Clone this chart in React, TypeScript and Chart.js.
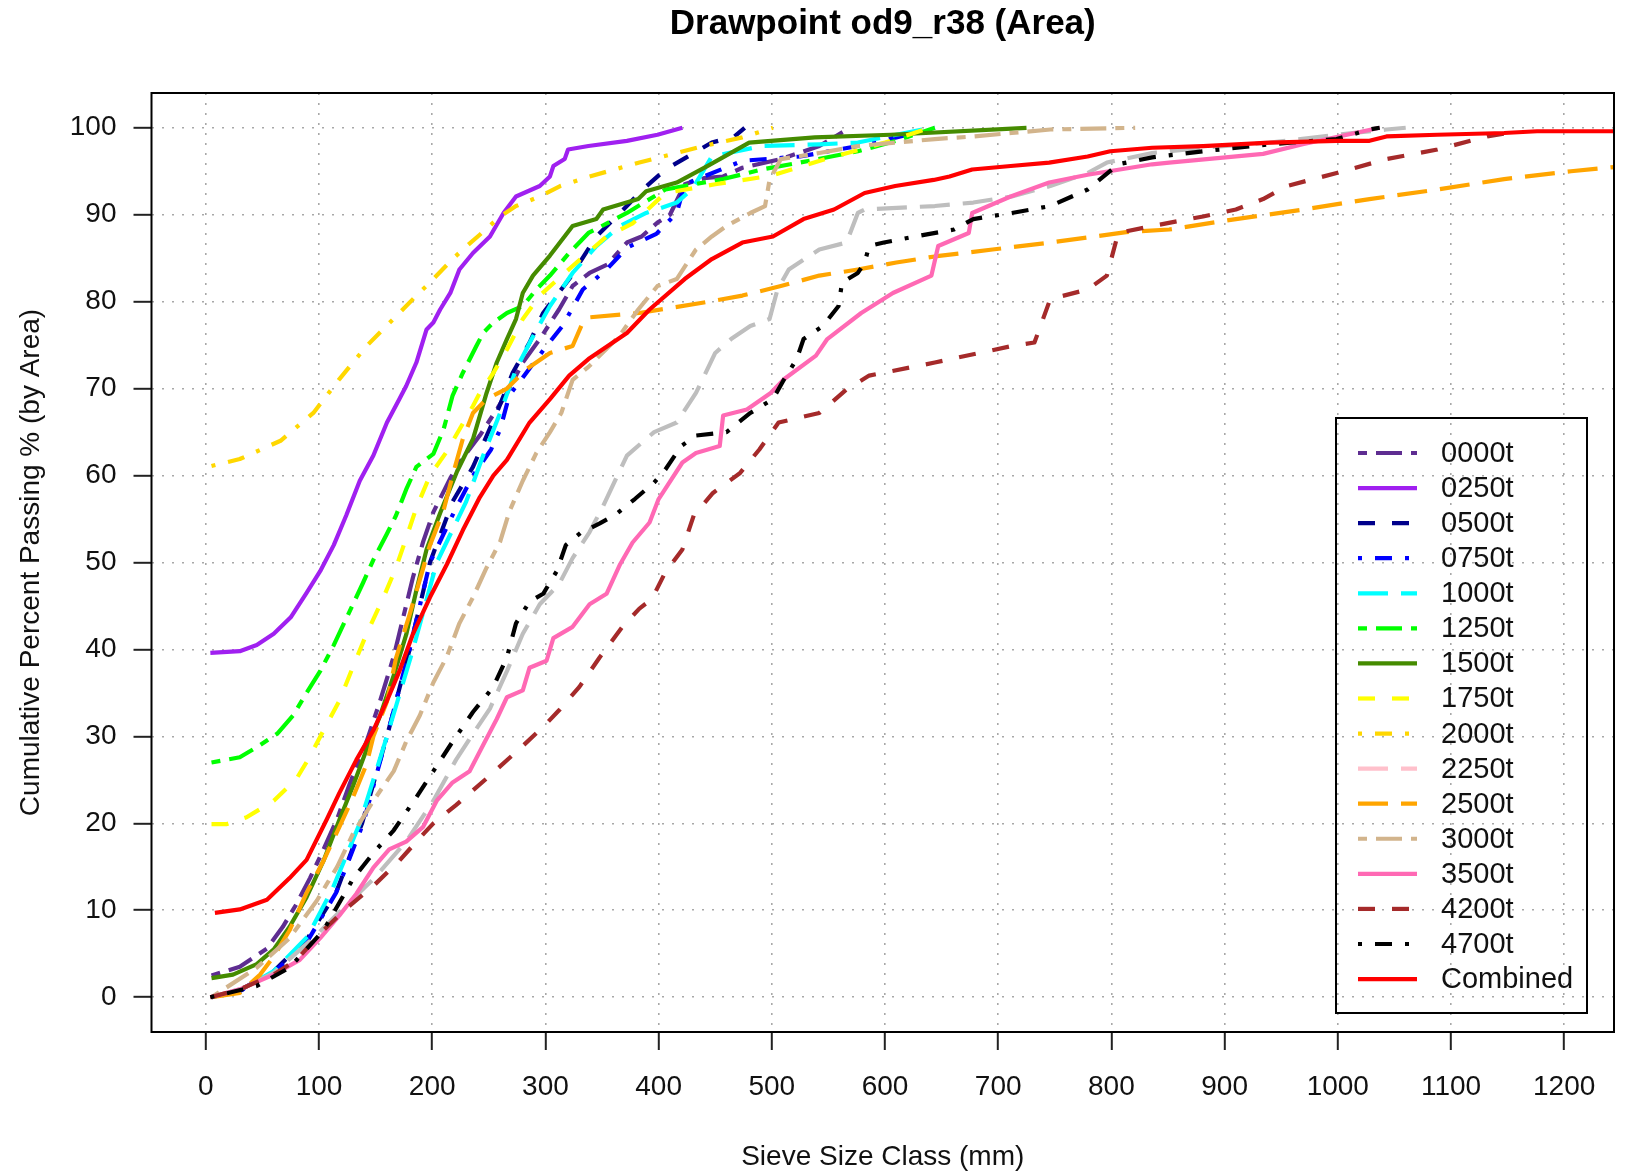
import { useEffect, useRef } from "react";
import { Chart, registerables } from "chart.js";

Chart.register(...registerables);

// ---------- data ----------
const chartTitle = "Drawpoint od9_r38 (Area)";
const xAxisTitle = "Sieve Size Class (mm)";
const yAxisTitle = "Cumulative Percent Passing % (by Area)";

const xTickValues = [0, 100, 200, 300, 400, 500, 600, 700, 800, 900, 1000, 1100, 1200];
const yTickValues = [0, 10, 20, 30, 40, 50, 60, 70, 80, 90, 100];

const seriesLabels = [
  "0000t", "0250t", "0500t", "0750t", "1000t", "1250t", "1500t", "1750t",
  "2000t", "2250t", "2500t", "3000t", "3500t", "4200t", "4700t", "Combined",
];

const s0000: number[][] = [[5,2.5],[30,3.5],[54,5.6],[68,8.1],[80,10.7],[92,13.7],[104,17],[116,20.5],[127,24.5],[142,29.4],[154,34.1],[166,39.2],[174,43.5],[183,48.3],[192,52.4],[201,55.8],[216,59.7],[224,61.5],[242,64.6],[257,67.6],[266,69.5],[280,73],[295,75.7],[312,79.1],[324,81.8],[339,83.3],[355,84.3],[372,86.8],[385,87.5],[399,89.1],[410,90],[423,93.5],[440,94.2],[457,94.4],[474,95.4],[508,96.4],[542,97.9],[569,100]];
const s0250: number[][] = [[4,39.6],[30,39.8],[45,40.5],[60,41.8],[75,43.7],[89,46.5],[101,49],[113,52],[124,55.4],[136,59.4],[148,62.3],[160,66.1],[171,68.8],[177,70.3],[186,73],[195,76.8],[201,77.6],[207,79.1],[216,81],[224,83.7],[236,85.6],[251,87.5],[263,90.2],[274,92.1],[295,93.3],[304,94.4],[307,95.6],[317,96.4],[320,97.5],[338,97.9],[372,98.5],[399,99.2],[421,100]];
const s0500: number[][] = [[5,0],[30,0.8],[60,3],[90,6.8],[115,12],[138,20],[160,30],[180,40],[198,50],[218,57],[236,61],[257,67.2],[271,71.8],[286,75.3],[298,78.7],[321,82.6],[345,87.5],[366,90.2],[386,92.9],[406,95.2],[447,98.3],[467,99],[476,100]];
const s0750: number[][] = [[5,0],[30,0.7],[60,2.8],[90,6.5],[115,12],[139,20],[160,30],[180,40],[198,50],[220,56],[236,60],[252,63],[260,65.3],[268,69.2],[283,71.8],[301,74.9],[315,77.2],[333,81.4],[354,83.7],[372,86.2],[398,87.8],[416,90.2],[423,93.5],[474,96.2],[525,96.7],[576,97.9],[610,98.9],[644,100]];
const s1000: number[][] = [[5,0],[30,0.8],[60,3],[90,7],[112,12.5],[136,20],[160,30],[183,40],[204,50],[230,57],[245,62.3],[260,67.2],[274,72.2],[289,76],[304,79.5],[324,83.3],[345,86.4],[366,88.7],[389,90.2],[416,91.4],[430,93],[447,96.7],[491,97.9],[542,98.1],[576,98.3],[610,99.2],[640,100]];
const s1250: number[][] = [[5,27],[30,27.6],[48,29],[63,30.3],[77,32.4],[89,35],[101,37.5],[113,40.5],[122,43],[130,45.2],[139,47.7],[148,50.3],[160,53.3],[168,55.4],[177,58.4],[186,61],[201,62.5],[210,65.3],[218,69.2],[227,71.8],[239,74.9],[245,76.4],[254,77.6],[266,78.7],[280,79.5],[292,81.4],[304,83],[321,85.6],[338,87.9],[372,90.2],[406,92.9],[457,94.1],[491,95.2],[525,96],[576,97.3],[610,98.5],[644,100]];
const s1500: number[][] = [[5,2.2],[24,2.6],[45,3.8],[60,5.5],[74,8.1],[89,11.5],[104,15.7],[118,20.4],[130,24.3],[142,28.5],[154,32.4],[166,37],[177,41.7],[186,46.8],[195,51.5],[207,55.7],[222,60.5],[236,64.2],[248,69.5],[257,73],[266,75.7],[274,78],[280,81],[289,83],[304,85.3],[324,88.7],[345,89.5],[351,90.6],[382,91.8],[389,92.7],[416,93.7],[443,95.6],[480,98.3],[538,98.9],[605,99.2],[725,100]];
const s1750: number[][] = [[5,19.9],[18,19.9],[36,20.7],[60,22.6],[80,25.1],[92,27.7],[104,30.7],[118,34.1],[130,38],[142,41.8],[157,46],[168,49.4],[177,52.8],[186,56.3],[198,60],[212,62.6],[224,65.3],[236,68],[242,69.5],[254,71.8],[266,74.5],[280,78],[295,80.7],[324,84.1],[354,87.5],[377,89],[406,92.5],[450,93.5],[500,94.5],[550,96.5],[600,98.3],[640,100]];
const s2000: number[][] = [[5,61.1],[30,61.9],[66,64],[95,67.2],[118,71.1],[142,74.9],[171,78.7],[186,80.7],[198,82.2],[218,84.9],[227,86],[242,87.7],[260,89.8],[274,91],[295,92.1],[313,93.3],[339,94.4],[383,96],[440,97.9],[474,98.9],[501,100]];
const s2250: number[][] = [[5,0],[30,0.9],[60,2.8],[95,6.8],[118,9.8],[148,13.6],[177,17.9],[201,22.6],[221,27.3],[236,30.3],[251,33.2],[266,37.5],[280,41.8],[295,45.2],[312,47.5],[324,50.5],[339,53.5],[351,56.5],[372,62.3],[396,65],[416,66.1],[433,69.5],[450,74.1],[464,75.7],[481,77.2],[498,78],[505,81.4],[515,83.7],[542,86],[566,86.8],[576,90.2],[582,90.6],[644,91],[678,91.4],[712,92.1],[746,93.3],[779,94.8],[796,96],[836,97.1],[881,97.7],[940,98.3],[999,99.2],[1043,99.8],[1060,100]];
const s2500: number[][] = [[5,0],[30,0.5],[48,2.6],[60,4.7],[74,7.7],[89,12],[104,15.7],[118,19.6],[130,23],[142,26.8],[148,30],[160,34],[168,39],[180,44],[189,48],[198,52],[210,56],[218,60],[227,64.2],[236,67.2],[248,68.8],[266,70],[283,72.2],[304,74.1],[324,74.9],[333,77.6],[339,78.2],[383,78.7],[440,79.9],[474,80.7],[508,81.8],[542,83],[576,83.7],[610,84.5],[644,85.2],[695,86],[746,86.8],[813,88],[851,88.3],[910,89.5],[970,90.6],[1028,91.8],[1088,92.9],[1147,94.1],[1206,95],[1246,95.5]];
const s3000: number[][] = [[5,0],[45,3.4],[74,6.8],[98,11.1],[116,15],[130,18.8],[148,22.6],[166,26],[177,29.4],[189,32.4],[201,36.2],[213,39.2],[224,43],[236,46],[248,49.4],[260,52.4],[268,55.8],[280,59.4],[292,62.6],[304,65],[314,67.2],[324,71],[338,72.5],[365,76],[382,79.1],[399,81.8],[416,82.6],[433,86],[447,87.5],[460,88.7],[481,90.2],[494,91],[498,94],[508,96.4],[542,97.1],[576,97.9],[610,98.3],[644,98.7],[678,99],[712,99.4],[746,99.8],[821,100]];
const s3500: number[][] = [[4,0],[30,0.9],[60,2.6],[83,4.3],[101,6.8],[118,9.4],[133,11.9],[148,14.9],[162,17],[177,17.9],[192,19.6],[204,22.6],[218,24.7],[233,26],[245,29],[257,32],[266,34.5],[280,35.3],[286,37.9],[301,38.7],[307,41.3],[324,42.6],[339,45.2],[354,46.4],[366,49.8],[377,52.3],[392,54.6],[400,57.3],[421,61.5],[433,62.6],[454,63.4],[457,66.9],[478,67.6],[499,69.5],[511,71.1],[539,73.8],[549,75.7],[579,78.7],[607,81],[641,83],[647,86.4],[674,87.9],[677,90.2],[711,92.1],[745,93.7],[779,94.6],[836,95.8],[851,96],[934,97],[969,98.1],[1037,100]];
const s4200: number[][] = [[4,0],[30,0.9],[60,2.6],[80,4.3],[104,7.7],[124,10.2],[148,12.8],[171,15.7],[186,17.9],[201,20],[221,22.1],[251,25.5],[280,28.9],[301,31.5],[312,33],[330,35.7],[348,39.1],[368,42.6],[383,44.7],[394,45.8],[406,48.9],[421,51.5],[431,55.4],[448,58],[472,60.3],[489,63],[506,66.1],[542,67.2],[566,69.9],[586,71.5],[644,73],[712,74.9],[732,75.3],[746,80.3],[779,81.4],[796,83],[806,87.9],[836,88.7],[881,89.8],[910,90.6],[934,91.8],[955,93.3],[999,94.8],[1043,96.4],[1088,97.5],[1132,99],[1160,99.6]];
const s4700: number[][] = [[4,0],[45,1.3],[74,3.4],[104,7.7],[130,13.6],[148,16.6],[166,19.2],[186,23],[201,26],[218,29.4],[236,32.8],[254,35.7],[266,39.1],[274,43],[286,45.5],[298,46.4],[310,49],[318,52],[331,53.4],[348,54.5],[362,55.5],[379,57.3],[396,59.2],[406,60.7],[420,63.4],[433,64.6],[460,65],[481,67.2],[501,68.8],[511,71.1],[522,73.4],[528,75.7],[545,77.2],[559,79.5],[562,82.2],[576,83.3],[582,84.5],[586,86.4],[599,86.8],[627,87.5],[661,88.3],[678,89.5],[712,90.2],[746,91],[779,92.9],[806,95.8],[836,96.6],[881,97.3],[940,98.1],[999,98.7],[1028,99.8],[1037,100]];
const sCombined: number[][] = [[8,9.7],[30,10.1],[54,11.2],[74,13.7],[89,15.8],[107,20.5],[118,23.5],[133,27.3],[148,30.7],[160,34.1],[171,37.5],[183,41.8],[198,46],[213,49.8],[227,53.7],[242,57.5],[254,60],[266,61.8],[286,66.1],[304,68.8],[321,71.5],[338,73.4],[372,76.4],[392,79.1],[423,82.6],[447,84.9],[474,86.8],[501,87.5],[528,89.5],[555,90.6],[582,92.5],[609,93.3],[643,94],[657,94.4],[677,95.2],[711,95.6],[745,96],[779,96.7],[799,97.3],[836,97.7],[881,97.9],[940,98.3],[999,98.5],[1028,98.5],[1043,99],[1088,99.2],[1147,99.4],[1176,99.6],[1246,99.6]];

const seriesData = [s0000, s0250, s0500, s0750, s1000, s1250, s1500, s1750, s2000, s2250, s2500, s3000, s3500, s4200, s4700, sCombined];

// ---------- styles ----------
const lineColors = [
  "#5E2D91", "#A020F0", "#00008B", "#0000FF", "#00FFFF", "#00FF00", "#458B00", "#FFFF00",
  "#FFD700", "#BEBEBE", "#FFA500", "#D2B48C", "#FF69B4", "#A52A2A", "#000000", "#FF0000",
];
const legendColors = [
  "#5E2D91", "#A020F0", "#00008B", "#0000FF", "#00FFFF", "#00FF00", "#458B00", "#FFFF00",
  "#FFD700", "#FFC0CB", "#FFA500", "#D2B48C", "#FF69B4", "#A52A2A", "#000000", "#FF0000",
];
const lineTypes = [
  "twodash", "solid", "dashed", "dotdash", "longdash", "twodash", "solid", "dashed",
  "dotdash", "longdash", "longdash", "twodash", "solid", "dashed", "dotdash", "solid",
];
const DASHES: Record<string, number[]> = {
  solid: [],
  dashed: [17, 17],
  dotdash: [4, 13, 17, 13],
  longdash: [30, 13],
  twodash: [9, 9, 26, 9],
};

const FONT = '"Liberation Sans", Arial, Helvetica, sans-serif';
const LINE_W = 4.2;

const framePlugin = {
  id: "frameAndLegend",
  afterDraw(chart: any) {
    const { ctx, chartArea: a } = chart;
    ctx.save();
    ctx.setLineDash([]);

    // main title, centred over the plot region
    ctx.fillStyle = "#000";
    ctx.font = `bold 35px ${FONT}`;
    ctx.textAlign = "center";
    ctx.textBaseline = "middle";
    ctx.fillText(chartTitle, (a.left + a.right) / 2, 24);

    ctx.strokeStyle = "#000";
    ctx.lineWidth = 2;
    ctx.strokeRect(a.left, a.top, a.right - a.left, a.bottom - a.top);

    // legend box (bottom right, inside plot)
    const boxRight = a.right - 27;
    const boxBottom = a.bottom - 19;
    const boxW = 251;
    const boxH = 595;
    const bx = boxRight - boxW;
    const by = boxBottom - boxH;
    ctx.strokeRect(bx, by, boxW, boxH);
    const rowStep = 35.07;
    ctx.font = `29px ${FONT}`;
    ctx.textBaseline = "middle";
    ctx.textAlign = "left";
    seriesLabels.forEach((lab, i) => {
      const cy = by + 35 + i * rowStep;
      ctx.beginPath();
      ctx.setLineDash(DASHES[lineTypes[i]]);
      ctx.strokeStyle = legendColors[i];
      ctx.lineWidth = LINE_W;
      ctx.moveTo(bx + 22, cy);
      ctx.lineTo(bx + 81, cy);
      ctx.stroke();
      ctx.setLineDash([]);
      ctx.fillStyle = "#111";
      ctx.fillText(lab, bx + 105, cy + 1);
    });
    ctx.restore();
  },
};

export default function App() {
  const ref = useRef<HTMLCanvasElement | null>(null);

  useEffect(() => {
    document.body.style.margin = "0";
    Chart.defaults.font.family = FONT;
    const datasets = seriesData.map((pts, i) => ({
      label: seriesLabels[i],
      data: pts.map((p) => ({ x: p[0], y: p[1] })),
      showLine: true,
      borderColor: lineColors[i],
      backgroundColor: lineColors[i],
      borderWidth: LINE_W,
      borderDash: DASHES[lineTypes[i]],
      borderJoinStyle: "round" as const,
      pointRadius: 0,
      pointHoverRadius: 0,
      tension: 0,
      fill: false,
      order: seriesData.length - i,
    }));

    const gridCommon = {
      color: "#A8A8A8",
      lineWidth: 1.6,
      tickLength: 18,
      tickColor: "#222",
      tickWidth: 2,
      tickBorderDash: [],
      drawOnChartArea: true,
      drawTicks: true,
    };

    const chart = new Chart(ref.current as HTMLCanvasElement, {
      type: "scatter",
      data: { datasets },
      plugins: [framePlugin],
      options: {
        responsive: false,
        animation: false,
        devicePixelRatio: 1,
        layout: { padding: { left: 0, right: 12, top: 93, bottom: 0 } },
        plugins: {
          legend: { display: false },
          tooltip: { enabled: false },
          title: { display: false },
        },
        scales: {
          x: {
            type: "linear",
            min: -48,
            max: 1244,
            afterBuildTicks: (s: any) => {
              s.ticks = xTickValues.map((v) => ({ value: v }));
            },
            afterFit: (s: any) => {
              s.height = 142;
            },
            grid: gridCommon,
            border: { display: false, dash: [2, 8] },
            ticks: {
              color: "#111",
              font: { size: 28 },
              padding: 20,
              maxRotation: 0,
              autoSkip: false,
              callback: (v: any) => String(v),
            },
            title: {
              display: true,
              text: xAxisTitle,
              color: "#111",
              font: { size: 28 },
              padding: { top: 0, bottom: 0 },
            },
          },
          y: {
            type: "linear",
            min: -4,
            max: 104,
            afterBuildTicks: (s: any) => {
              s.ticks = yTickValues.map((v) => ({ value: v }));
            },
            afterFit: (s: any) => {
              s.width = 151.5;
            },
            grid: gridCommon,
            border: { display: false, dash: [2, 8] },
            ticks: {
              color: "#111",
              font: { size: 28 },
              padding: 17,
              autoSkip: false,
              callback: (v: any) => String(v),
            },
            title: {
              display: true,
              text: yAxisTitle,
              color: "#111",
              font: { size: 28 },
              padding: { top: 14, bottom: 0 },
            },
          },
        },
      },
    } as any);
    return () => chart.destroy();
  }, []);

  return (
    <div style={{ position: "absolute", left: 0, top: 0, width: 1626, height: 1174, background: "#fff" }}>
      <canvas ref={ref} width={1626} height={1174} style={{ display: "block", width: 1626, height: 1174 }} />
    </div>
  );
}
